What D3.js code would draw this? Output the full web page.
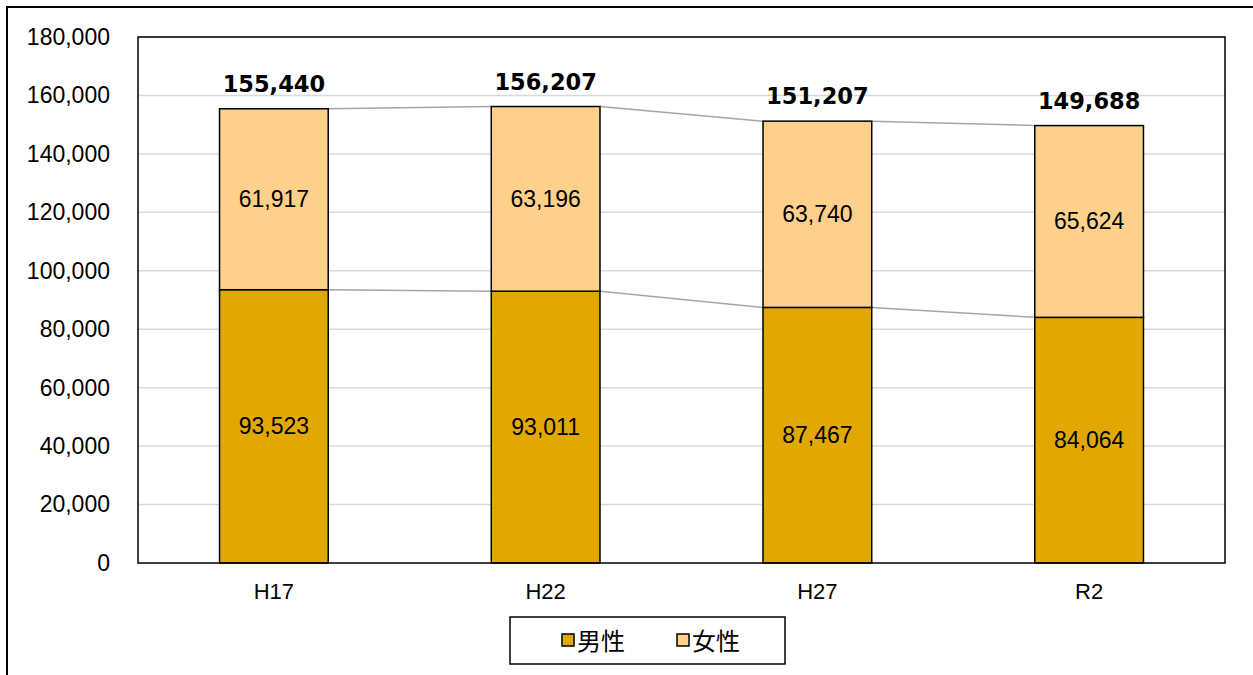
<!DOCTYPE html>
<html>
<head>
<meta charset="utf-8">
<script src="https://cdn.jsdelivr.net/npm/d3@7"></script>
<style>
  body { margin: 0; background: #fff; }
  svg { display: block; }
</style>
</head>
<body>
<svg id="chart" width="1253" height="675"></svg>
<script>
// data
const categories = ["H17", "H22", "H27", "R2"];
const male = [93523, 93011, 87467, 84064];
const female = [61917, 63196, 63740, 65624];
const totals = [155440, 156207, 151207, 149688];
const yTicks = [0, 20000, 40000, 60000, 80000, 100000, 120000, 140000, 160000, 180000];
const seriesNames = ["男性", "女性"];

const svg = d3.select("#chart");
const colors = ["#E0A800", "#FFD08A"];
const fmt = d3.format(",");

// outer frame
svg.append("rect")
  .attr("x", 7).attr("y", 7)
  .attr("width", 1260).attr("height", 690)
  .attr("fill", "none").attr("stroke", "#000").attr("stroke-width", 2);

const plotLeft = 138, plotTop = 37, plotRight = 1225, plotBottom = 563;

const x = d3.scaleBand().domain(categories).range([plotLeft, plotRight]).paddingInner(0.6).paddingOuter(0.3);
const y = d3.scaleLinear().domain([0, 180000]).range([plotBottom, plotTop]);

// gridlines
svg.append("g").selectAll("line")
  .data(yTicks.slice(1))
  .enter().append("line")
  .attr("x1", plotLeft).attr("x2", plotRight)
  .attr("y1", d => y(d)).attr("y2", d => y(d))
  .attr("stroke", "#d9d9d9").attr("stroke-width", 1.5);

// y axis labels
const yAxis = d3.axisLeft(y).tickValues(yTicks).tickFormat(fmt).tickSize(0).tickPadding(28);
svg.append("g")
  .attr("transform", `translate(${plotLeft},0)`)
  .call(yAxis)
  .call(g => g.select(".domain").remove())
  .selectAll("text")
  .attr("font-family", "Liberation Sans, Arial, sans-serif")
  .attr("font-size", 23)
  .attr("fill", "#000");

// x axis labels
const xAxis = d3.axisBottom(x).tickSize(0).tickPadding(20);
svg.append("g")
  .attr("transform", `translate(0,${plotBottom})`)
  .call(xAxis)
  .call(g => g.select(".domain").remove())
  .selectAll("text")
  .attr("font-family", "Liberation Sans, Arial, sans-serif")
  .attr("font-size", 22)
  .attr("fill", "#000");

// series lines between bars
const lineG = svg.append("g");
[male, totals].forEach(vals => {
  for (let i = 0; i < categories.length - 1; i++) {
    lineG.append("line")
      .attr("x1", x(categories[i]) + x.bandwidth())
      .attr("y1", y(vals[i]))
      .attr("x2", x(categories[i + 1]))
      .attr("y2", y(vals[i + 1]))
      .attr("stroke", "#a6a6a6").attr("stroke-width", 1.5);
  }
});

// bars
const bars = svg.append("g");
categories.forEach((c, i) => {
  bars.append("rect")
    .attr("x", x(c)).attr("y", y(male[i]))
    .attr("width", x.bandwidth()).attr("height", y(0) - y(male[i]))
    .attr("fill", colors[0]).attr("stroke", "#000").attr("stroke-width", 1.5);
  bars.append("rect")
    .attr("x", x(c)).attr("y", y(male[i] + female[i]))
    .attr("width", x.bandwidth()).attr("height", y(male[i]) - y(male[i] + female[i]))
    .attr("fill", colors[1]).attr("stroke", "#000").attr("stroke-width", 1.5);
});

// value labels
const lab = svg.append("g")
  .attr("font-family", "Liberation Sans, Arial, sans-serif")
  .attr("font-size", 23)
  .attr("text-anchor", "middle");
categories.forEach((c, i) => {
  const cx = x(c) + x.bandwidth() / 2;
  lab.append("text").attr("x", cx).attr("y", (y(0) + y(male[i])) / 2 + 8).text(fmt(male[i]));
  lab.append("text").attr("x", cx).attr("y", (y(male[i]) + y(male[i] + female[i])) / 2 + 8).text(fmt(female[i]));
});

// totals
svg.append("g")
  .attr("font-family", "DejaVu Sans, Verdana, sans-serif")
  .attr("font-size", 22.5)
  .attr("font-weight", "bold")
  .attr("text-anchor", "middle")
  .selectAll("text")
  .data(totals)
  .enter().append("text")
  .attr("x", (d, i) => x(categories[i]) + x.bandwidth() / 2)
  .attr("y", d => y(d) - 17)
  .text(d => fmt(d));

// plot area border
svg.append("rect")
  .attr("x", plotLeft).attr("y", plotTop)
  .attr("width", plotRight - plotLeft).attr("height", plotBottom - plotTop)
  .attr("fill", "none").attr("stroke", "#000").attr("stroke-width", 1.5);

// legend
const lg = svg.append("g");
lg.append("rect")
  .attr("x", 510).attr("y", 617).attr("width", 275).attr("height", 47)
  .attr("fill", "#fff").attr("stroke", "#000").attr("stroke-width", 1.5);
const legendX = [562, 677];
seriesNames.forEach((n, i) => {
  lg.append("rect")
    .attr("x", legendX[i]).attr("y", 634).attr("width", 12).attr("height", 12)
    .attr("fill", colors[i]).attr("stroke", "#000").attr("stroke-width", 1.5);
  lg.append("text")
    .attr("x", legendX[i] + 15).attr("y", 650)
    .attr("font-family", "Noto Sans CJK JP, sans-serif")
    .attr("font-size", 24)
    .text(n);
});
</script>
</body>
</html>
